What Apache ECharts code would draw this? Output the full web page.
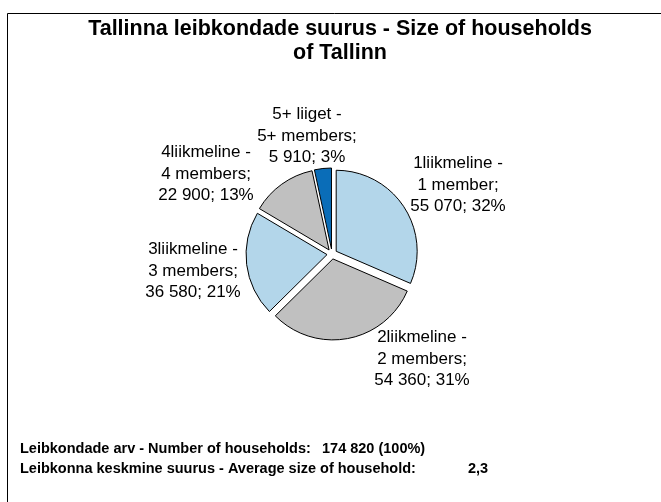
<!DOCTYPE html>
<html>
<head>
<meta charset="utf-8">
<script src="https://cdn.jsdelivr.net/npm/echarts@6/dist/echarts.min.js"></script>
<style>
  html, body { margin: 0; padding: 0; background: #fff; }
  #chart { width: 661px; height: 502px; }
</style>
</head>
<body>
<div id="chart"></div>
<script>
// andmed - households of Tallinn
var categories = ['1liikmeline', '2liikmeline', '3liikmeline', '4liikmeline', '5+ liiget'];
var membersText = ['1 member', '2 members', '3 members', '4 members', '5+ members'];
var households = [55070, 54360, 36580, 22900, 5910];
var averageSize = '2,3';

var sliceColors = ['#b3d6ea', '#c0c0c0', '#b3d6ea', '#c0c0c0', '#0a6db8'];
// label block centres, placed where excel put them
var labelPos = [[458, 185], [422, 359], [193, 271], [206, 174], [307, 136]];

var FONT = 'Liberation Sans, Arial, sans-serif';

function fmt(n) {
  return String(n).replace(/\B(?=(\d{3})+(?!\d))/g, ' ');
}

var total = households.reduce(function (a, b) { return a + b; }, 0);

var pieData = categories.map(function (c, i) {
  return {
    name: c,
    value: households[i],
    selected: true,
    itemStyle: { color: sliceColors[i] }
  };
});

// slice labels
var labelGraphics = categories.map(function (c, i) {
  var pct = Math.round(households[i] / total * 100);
  return {
    type: 'text',
    x: labelPos[i][0],
    y: labelPos[i][1],
    silent: true,
    style: {
      text: c + ' -\n' + membersText[i] + ';\n' + fmt(households[i]) + '; ' + pct + '%',
      font: '17px ' + FONT,
      lineHeight: 21.5,
      fill: '#000',
      align: 'center',
      verticalAlign: 'middle'
    }
  };
});

var bottomFont = 'bold 14.5px ' + FONT;

var myChart = echarts.init(document.getElementById('chart'));

var option = {
  animation: false,
  title: {
    text: 'Tallinna leibkondade suurus - Size of households\nof Tallinn',
    left: 335,
    top: 12,
    textAlign: 'center',
    textStyle: { fontFamily: FONT, fontSize: 21.5, fontWeight: 'bold', color: '#000', lineHeight: 24 }
  },
  graphic: [
    {
      type: 'rect',
      shape: { x: 7.5, y: 13.5, width: 700, height: 600 },
      style: { fill: null, stroke: '#000', lineWidth: 1 },
      silent: true,
      z: -1
    },
    {
      type: 'text', left: 20, top: 441,
      style: { text: 'Leibkondade arv - Number of households:', font: bottomFont, fill: '#000' }
    },
    {
      type: 'text', left: 322, top: 441,
      style: { text: fmt(total) + ' (100%)', font: bottomFont, fill: '#000' }
    },
    {
      type: 'text', left: 20, top: 461,
      style: { text: 'Leibkonna keskmine suurus - Average size of household:', font: bottomFont, fill: '#000' }
    },
    {
      type: 'text', left: 468, top: 461,
      style: { text: averageSize, font: bottomFont, fill: '#000' }
    }
  ].concat(labelGraphics),
  series: [
    {
      type: 'pie',
      center: [332, 254],
      radius: 81,
      startAngle: 90,
      clockwise: true,
      selectedMode: 'multiple',
      selectedOffset: 5,
      emphasis: { disabled: true },
      itemStyle: { borderColor: '#000', borderWidth: 1 },
      label: { show: false },
      labelLine: { show: false },
      data: pieData
    }
  ]
};

myChart.setOption(option);
</script>
</body>
</html>
